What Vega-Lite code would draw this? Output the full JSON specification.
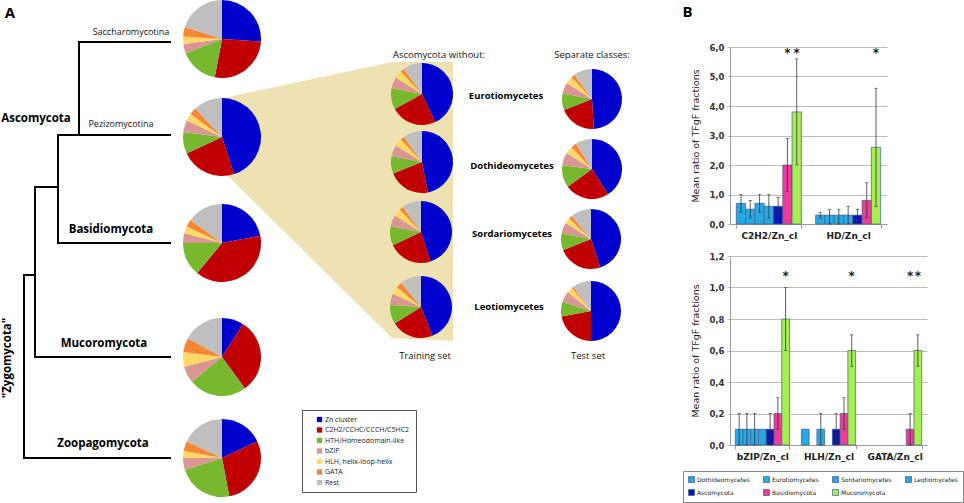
{
  "$schema": "https://vega.github.io/schema/vega-lite/v6.json",
  "padding": 0,
  "spacing": 0,
  "background": "white",
  "config": {
    "view": {"stroke": null},
    "axisY": {"grid": true, "gridColor": "#BDBDBD", "ticks": true, "tickSize": 3, "tickColor": "#BDBDBD", "domainColor": "#9A9A9A", "labelFont": "DejaVu Sans", "labelFontWeight": "bold", "labelFontSize": 8.5, "labelColor": "#333333", "labelPadding": 3, "labelOverlap": false, "titleFont": "DejaVu Sans", "titleFontWeight": "normal", "titleFontSize": 9.5, "titleColor": "#2A1A1A", "titlePadding": 8},
    "axisX": {"title": null, "labelAngle": 0, "labelFont": "DejaVu Sans", "labelFontWeight": "bold", "labelFontSize": 9, "labelColor": "#222222", "ticks": true, "tickBand": "extent", "tickSize": 4, "tickColor": "#9A9A9A", "domainColor": "#9A9A9A", "labelPadding": 3}
  },
  "resolve": {"scale": {"color": "independent", "x": "independent", "y": "independent"}, "legend": {"color": "independent"}},
  "datasets": {
    "tree": [
      {"x": 79, "y": 42, "x2": 170, "y2": 42},
      {"x": 79, "y": 42, "x2": 79, "y2": 135},
      {"x": 58, "y": 135, "x2": 170, "y2": 135},
      {"x": 58, "y": 135, "x2": 58, "y2": 243},
      {"x": 58, "y": 243, "x2": 170, "y2": 243},
      {"x": 35, "y": 187, "x2": 58, "y2": 187},
      {"x": 35, "y": 187, "x2": 35, "y2": 357},
      {"x": 35, "y": 357, "x2": 170, "y2": 357},
      {"x": 24, "y": 275, "x2": 35, "y2": 275},
      {"x": 24, "y": 275, "x2": 24, "y2": 458},
      {"x": 24, "y": 458, "x2": 170, "y2": 458}
    ],
    "wedge": [
      {"x": 228, "y": 97, "y2": 176},
      {"x": 392, "y": 62, "y2": 338},
      {"x": 453, "y": 62, "y2": 341}
    ],
    "pies": [
      {"pie": "Saccharomycotina", "set": "main", "x": 222, "y": 39, "zn": 26, "c2h2": 27, "hth": 16, "bzip": 4, "hlh": 3, "gata": 4, "rest": 20},
      {"pie": "Pezizomycotina", "set": "main", "x": 222, "y": 137, "zn": 45, "c2h2": 23, "hth": 9, "bzip": 5, "hlh": 3, "gata": 3, "rest": 12},
      {"pie": "Basidiomycota", "set": "main", "x": 222, "y": 243, "zn": 22, "c2h2": 39, "hth": 14, "bzip": 4, "hlh": 3, "gata": 3, "rest": 15},
      {"pie": "Mucoromycota", "set": "main", "x": 222, "y": 357, "zn": 9, "c2h2": 31, "hth": 24, "bzip": 7, "hlh": 6, "gata": 6, "rest": 17},
      {"pie": "Zoopagomycota", "set": "main", "x": 222, "y": 458, "zn": 18, "c2h2": 29, "hth": 23, "bzip": 5, "hlh": 3, "gata": 4, "rest": 18},
      {"pie": "Train Eurotiomycetes", "set": "train", "x": 422, "y": 94, "zn": 43, "c2h2": 24, "hth": 11, "bzip": 6, "hlh": 4, "gata": 2, "rest": 10},
      {"pie": "Train Dothideomycetes", "set": "train", "x": 422, "y": 162, "zn": 47, "c2h2": 22, "hth": 9, "bzip": 6, "hlh": 4, "gata": 2, "rest": 10},
      {"pie": "Train Sordariomycetes", "set": "train", "x": 421, "y": 232, "zn": 45, "c2h2": 23, "hth": 10, "bzip": 6, "hlh": 4, "gata": 2, "rest": 10},
      {"pie": "Train Leotiomycetes", "set": "train", "x": 421, "y": 307, "zn": 44, "c2h2": 22, "hth": 10, "bzip": 6, "hlh": 4, "gata": 3, "rest": 11},
      {"pie": "Test Eurotiomycetes", "set": "test", "x": 592, "y": 99, "zn": 49, "c2h2": 20, "hth": 9, "bzip": 6, "hlh": 4, "gata": 2, "rest": 10},
      {"pie": "Test Dothideomycetes", "set": "test", "x": 592, "y": 169, "zn": 41, "c2h2": 24, "hth": 12, "bzip": 7, "hlh": 4, "gata": 3, "rest": 9},
      {"pie": "Test Sordariomycetes", "set": "test", "x": 591, "y": 239, "zn": 45, "c2h2": 24, "hth": 9, "bzip": 6, "hlh": 3, "gata": 2, "rest": 11},
      {"pie": "Test Leotiomycetes", "set": "test", "x": 591, "y": 311, "zn": 50, "c2h2": 22, "hth": 8, "bzip": 6, "hlh": 3, "gata": 1, "rest": 10}
    ],
    "labels": [
      {"text": "A", "x": 10, "y": 13, "kind": "panel"},
      {"text": "Saccharomycotina", "x": 131, "y": 32, "kind": "sub"},
      {"text": "Pezizomycotina", "x": 121, "y": 124, "kind": "sub"},
      {"text": "Ascomycota", "x": 36, "y": 119, "kind": "phylum"},
      {"text": "Basidiomycota", "x": 111, "y": 230, "kind": "phylum"},
      {"text": "Mucoromycota", "x": 104, "y": 344, "kind": "phylum"},
      {"text": "Zoopagomycota", "x": 103, "y": 444, "kind": "phylum"},
      {"text": "\"Zygomycota\"", "x": 8, "y": 358, "kind": "vert"},
      {"text": "Ascomycota without:", "x": 439, "y": 55, "kind": "head"},
      {"text": "Separate classes:", "x": 592, "y": 55, "kind": "head"},
      {"text": "Eurotiomycetes", "x": 506, "y": 96, "kind": "cls"},
      {"text": "Dothideomycetes", "x": 512, "y": 166, "kind": "cls"},
      {"text": "Sordariomycetes", "x": 512, "y": 234, "kind": "cls"},
      {"text": "Leotiomycetes", "x": 509, "y": 307, "kind": "cls"},
      {"text": "Training set", "x": 425, "y": 356, "kind": "head"},
      {"text": "Test set", "x": 588, "y": 356, "kind": "head"}
    ],
    "bars": [
      {"ratio": "C2H2/Zn_cl", "grp": "Dothideomycetes", "mean": 0.7, "lo": 0.4, "hi": 1.0, "sig": ""},
      {"ratio": "C2H2/Zn_cl", "grp": "Eurotiomycetes", "mean": 0.5, "lo": 0.2, "hi": 0.8, "sig": ""},
      {"ratio": "C2H2/Zn_cl", "grp": "Sordariomycetes", "mean": 0.7, "lo": 0.4, "hi": 1.0, "sig": ""},
      {"ratio": "C2H2/Zn_cl", "grp": "Leotiomycetes", "mean": 0.6, "lo": 0.2, "hi": 1.0, "sig": ""},
      {"ratio": "C2H2/Zn_cl", "grp": "Ascomycota", "mean": 0.6, "lo": 0.3, "hi": 0.9, "sig": ""},
      {"ratio": "C2H2/Zn_cl", "grp": "Basidiomycota", "mean": 2.0, "lo": 1.1, "hi": 2.9, "sig": "*"},
      {"ratio": "C2H2/Zn_cl", "grp": "Mucoromycota", "mean": 3.8, "lo": 2.0, "hi": 5.6, "sig": "*"},
      {"ratio": "HD/Zn_cl", "grp": "Dothideomycetes", "mean": 0.3, "lo": 0.2, "hi": 0.4, "sig": ""},
      {"ratio": "HD/Zn_cl", "grp": "Eurotiomycetes", "mean": 0.3, "lo": 0.0, "hi": 0.5, "sig": ""},
      {"ratio": "HD/Zn_cl", "grp": "Sordariomycetes", "mean": 0.3, "lo": 0.0, "hi": 0.5, "sig": ""},
      {"ratio": "HD/Zn_cl", "grp": "Leotiomycetes", "mean": 0.3, "lo": 0.0, "hi": 0.6, "sig": ""},
      {"ratio": "HD/Zn_cl", "grp": "Ascomycota", "mean": 0.3, "lo": 0.1, "hi": 0.5, "sig": ""},
      {"ratio": "HD/Zn_cl", "grp": "Basidiomycota", "mean": 0.8, "lo": 0.2, "hi": 1.4, "sig": ""},
      {"ratio": "HD/Zn_cl", "grp": "Mucoromycota", "mean": 2.6, "lo": 0.6, "hi": 4.6, "sig": "*"},
      {"ratio": "bZIP/Zn_cl", "grp": "Dothideomycetes", "mean": 0.1, "lo": 0.0, "hi": 0.2, "sig": ""},
      {"ratio": "bZIP/Zn_cl", "grp": "Eurotiomycetes", "mean": 0.1, "lo": 0.0, "hi": 0.2, "sig": ""},
      {"ratio": "bZIP/Zn_cl", "grp": "Sordariomycetes", "mean": 0.1, "lo": 0.0, "hi": 0.2, "sig": ""},
      {"ratio": "bZIP/Zn_cl", "grp": "Leotiomycetes", "mean": 0.1, "lo": null, "hi": null, "sig": ""},
      {"ratio": "bZIP/Zn_cl", "grp": "Ascomycota", "mean": 0.1, "lo": 0.0, "hi": 0.2, "sig": ""},
      {"ratio": "bZIP/Zn_cl", "grp": "Basidiomycota", "mean": 0.2, "lo": 0.1, "hi": 0.3, "sig": ""},
      {"ratio": "bZIP/Zn_cl", "grp": "Mucoromycota", "mean": 0.8, "lo": 0.6, "hi": 1.0, "sig": "*"},
      {"ratio": "HLH/Zn_cl", "grp": "Dothideomycetes", "mean": 0.1, "lo": null, "hi": null, "sig": ""},
      {"ratio": "HLH/Zn_cl", "grp": "Sordariomycetes", "mean": 0.1, "lo": 0.0, "hi": 0.2, "sig": ""},
      {"ratio": "HLH/Zn_cl", "grp": "Ascomycota", "mean": 0.1, "lo": 0.0, "hi": 0.2, "sig": ""},
      {"ratio": "HLH/Zn_cl", "grp": "Basidiomycota", "mean": 0.2, "lo": 0.1, "hi": 0.3, "sig": ""},
      {"ratio": "HLH/Zn_cl", "grp": "Mucoromycota", "mean": 0.6, "lo": 0.5, "hi": 0.7, "sig": "*"},
      {"ratio": "GATA/Zn_cl", "grp": "Basidiomycota", "mean": 0.1, "lo": 0.0, "hi": 0.2, "sig": "*"},
      {"ratio": "GATA/Zn_cl", "grp": "Mucoromycota", "mean": 0.6, "lo": 0.5, "hi": 0.7, "sig": "*"}
    ]
  },
  "hconcat": [
    {
      "width": 682,
      "height": 456,
      "layer": [
        {
          "data": {"name": "wedge"},
          "mark": {"type": "area", "orient": "vertical", "color": "#EEE2B3"},
          "encoding": {
            "x": {"field": "x", "type": "quantitative", "scale": {"domain": [0, 682], "nice": false, "zero": false}, "axis": null},
            "y": {"field": "y", "type": "quantitative", "scale": {"domain": [47, 503], "nice": false, "zero": false, "reverse": true}, "axis": null},
            "y2": {"field": "y2"}
          }
        },
        {
          "data": {"name": "tree"},
          "mark": {"type": "rule", "color": "#000000", "strokeWidth": 2, "strokeCap": "square"},
          "encoding": {
            "x": {"field": "x", "type": "quantitative", "scale": {"domain": [0, 682], "nice": false, "zero": false}, "axis": null},
            "y": {"field": "y", "type": "quantitative", "scale": {"domain": [47, 503], "nice": false, "zero": false, "reverse": true}, "axis": null},
            "x2": {"field": "x2"},
            "y2": {"field": "y2"}
          }
        },
        {
          "data": {"name": "pies"},
          "transform": [
            {"fold": ["zn", "c2h2", "hth", "bzip", "hlh", "gata", "rest"], "as": ["tf", "v"]},
            {"window": [{"op": "row_number", "as": "k"}], "groupby": ["pie"]},
            {"stack": "v", "groupby": ["pie"], "sort": [{"field": "k", "order": "ascending"}], "offset": "normalize", "as": ["t0", "t1"]}
          ],
          "layer": [
            {"transform": [{"filter": "datum.set == 'main'"}], "mark": {"type": "arc", "outerRadius": 39}},
            {"transform": [{"filter": "datum.set == 'train'"}], "mark": {"type": "arc", "outerRadius": 31}},
            {"transform": [{"filter": "datum.set == 'test'"}], "mark": {"type": "arc", "outerRadius": 30}}
          ],
          "encoding": {
            "x": {"field": "x", "type": "quantitative", "scale": {"domain": [0, 682], "nice": false, "zero": false}, "axis": null},
            "y": {"field": "y", "type": "quantitative", "scale": {"domain": [47, 503], "nice": false, "zero": false, "reverse": true}, "axis": null},
            "theta": {"field": "t0", "type": "quantitative", "scale": {"domain": [0, 1]}},
            "theta2": {"field": "t1"},
            "color": {
              "field": "tf", "type": "nominal",
              "scale": {"domain": ["zn", "c2h2", "hth", "bzip", "hlh", "gata", "rest"], "range": ["#0000CC", "#C00000", "#77B82E", "#D99694", "#FFD866", "#F58634", "#BFBFBF"]},
              "legend": {
                "orient": "none", "legendX": 302, "legendY": 363, "title": null,
                "symbolType": "square", "symbolSize": 28, "symbolOffset": 8,
                "labelFont": "Open Sans", "labelFontSize": 7, "labelColor": "#222222", "labelOffset": 2,
                "strokeColor": "#555555", "padding": 6, "rowPadding": 2.5,
                "labelExpr": "{'zn': 'Zn cluster', 'c2h2': 'C2H2/CCHC/CCCH/C5HC2', 'hth': 'HTH/Homeodomain-like', 'bzip': 'bZIP', 'hlh': 'HLH, helix-loop-helix', 'gata': 'GATA', 'rest': 'Rest'}[datum.label]"
              }
            }
          }
        },
        {
          "data": {"name": "labels"},
          "encoding": {
            "x": {"field": "x", "type": "quantitative", "scale": {"domain": [0, 682], "nice": false, "zero": false}, "axis": null},
            "y": {"field": "y", "type": "quantitative", "scale": {"domain": [47, 503], "nice": false, "zero": false, "reverse": true}, "axis": null},
            "text": {"field": "text"}
          },
          "layer": [
            {"transform": [{"filter": "datum.kind == 'panel'"}], "mark": {"type": "text", "font": "Open Sans", "fontWeight": "bold", "fontSize": 15, "color": "#000"}},
            {"transform": [{"filter": "datum.kind == 'sub'"}], "mark": {"type": "text", "font": "Open Sans", "fontSize": 9, "color": "#111"}},
            {"transform": [{"filter": "datum.kind == 'phylum'"}], "mark": {"type": "text", "font": "Open Sans", "fontWeight": "bold", "fontSize": 11.5, "color": "#000"}},
            {"transform": [{"filter": "datum.kind == 'vert'"}], "mark": {"type": "text", "font": "Open Sans", "fontWeight": "bold", "fontSize": 11.5, "angle": 270, "color": "#000"}},
            {"transform": [{"filter": "datum.kind == 'head'"}], "mark": {"type": "text", "font": "Open Sans", "fontSize": 9.5, "color": "#111"}},
            {"transform": [{"filter": "datum.kind == 'cls'"}], "mark": {"type": "text", "font": "Open Sans", "fontWeight": "bold", "fontSize": 9.5, "color": "#000"}}
          ]
        }
      ]
    },
    {
      "title": {"text": "B", "anchor": "start", "fontSize": 15, "fontWeight": "bold", "font": "Open Sans", "offset": 28, "frame": "bounds", "color": "#000", "dy": 5},
      "data": {"name": "bars"},
      "spacing": 12,
      "resolve": {"scale": {"x": "independent", "y": "independent", "xOffset": "independent"}},
      "vconcat": [
        {
          "width": 157,
          "height": 177,
          "transform": [{"filter": "datum.ratio == 'C2H2/Zn_cl' || datum.ratio == 'HD/Zn_cl'"}],
          "encoding": {
            "x": {"field": "ratio", "type": "nominal", "sort": ["C2H2/Zn_cl", "HD/Zn_cl"], "scale": {"paddingInner": 0.18, "paddingOuter": 0.08}},
            "xOffset": {"field": "grp", "type": "nominal", "sort": ["Dothideomycetes", "Eurotiomycetes", "Sordariomycetes", "Leotiomycetes", "Ascomycota", "Basidiomycota", "Mucoromycota"], "scale": {"domain": ["Dothideomycetes", "Eurotiomycetes", "Sordariomycetes", "Leotiomycetes", "Ascomycota", "Basidiomycota", "Mucoromycota"]}}
          },
          "layer": [
            {
              "mark": {"type": "bar", "stroke": "#3C5F8A", "strokeWidth": 0.7},
              "encoding": {
                "y": {"field": "mean", "type": "quantitative", "scale": {"domain": [0, 6], "nice": false},
                  "axis": {"title": "Mean ratio of TFgF fractions", "values": [0, 1, 2, 3, 4, 5, 6], "labelExpr": "replace(format(datum.value, '.1f'), '.', ',')"}},
                "color": {"field": "grp", "type": "nominal",
                  "scale": {"domain": ["Dothideomycetes", "Eurotiomycetes", "Sordariomycetes", "Leotiomycetes", "Ascomycota", "Basidiomycota", "Mucoromycota"], "range": ["#29A8E6", "#29A8E6", "#29A8E6", "#29A8E6", "#0A14B4", "#EE3C9A", "#A6EE52"]},
                  "legend": {"orient": "none", "legendX": -47, "legendY": 424, "direction": "horizontal", "columns": 4, "title": null, "symbolType": "square", "symbolSize": 36, "symbolStrokeColor": "#335577", "symbolStrokeWidth": 0.7, "labelFont": "DejaVu Sans", "labelFontSize": 6, "labelColor": "#222", "strokeColor": "#888888", "padding": 5, "columnPadding": 12, "rowPadding": 4, "labelOffset": 2}}
              }
            },
            {
              "mark": {"type": "rule", "color": "#333333", "strokeWidth": 0.8},
              "encoding": {"y": {"field": "lo", "type": "quantitative", "scale": {"domain": [0, 6], "nice": false},
                  "axis": {"title": "Mean ratio of TFgF fractions", "values": [0, 1, 2, 3, 4, 5, 6], "labelExpr": "replace(format(datum.value, '.1f'), '.', ',')"}}, "y2": {"field": "hi"}}
            },
            {
              "mark": {"type": "tick", "orient": "horizontal", "color": "#333333", "size": 3.5, "thickness": 0.8},
              "encoding": {"y": {"field": "lo", "type": "quantitative", "scale": {"domain": [0, 6], "nice": false},
                  "axis": {"title": "Mean ratio of TFgF fractions", "values": [0, 1, 2, 3, 4, 5, 6], "labelExpr": "replace(format(datum.value, '.1f'), '.', ',')"}}}
            },
            {
              "mark": {"type": "tick", "orient": "horizontal", "color": "#333333", "size": 3.5, "thickness": 0.8},
              "encoding": {"y": {"field": "hi", "type": "quantitative", "scale": {"domain": [0, 6], "nice": false},
                  "axis": {"title": "Mean ratio of TFgF fractions", "values": [0, 1, 2, 3, 4, 5, 6], "labelExpr": "replace(format(datum.value, '.1f'), '.', ',')"}}}
            },
            {
              "mark": {"type": "text", "font": "DejaVu Sans", "fontSize": 12, "fontWeight": "bold", "baseline": "middle", "color": "#222"},
              "encoding": {"y": {"datum": 5.78, "type": "quantitative", "scale": {"domain": [0, 6], "nice": false},
                  "axis": {"title": "Mean ratio of TFgF fractions", "values": [0, 1, 2, 3, 4, 5, 6], "labelExpr": "replace(format(datum.value, '.1f'), '.', ',')"}}, "text": {"field": "sig"}}
            }
          ]
        },
        {
          "width": 197,
          "height": 189,
          "transform": [{"filter": "datum.ratio == 'bZIP/Zn_cl' || datum.ratio == 'HLH/Zn_cl' || datum.ratio == 'GATA/Zn_cl'"}],
          "encoding": {
            "x": {"field": "ratio", "type": "nominal", "sort": ["bZIP/Zn_cl", "HLH/Zn_cl", "GATA/Zn_cl"], "scale": {"paddingInner": 0.18, "paddingOuter": 0.08}},
            "xOffset": {"field": "grp", "type": "nominal", "sort": ["Dothideomycetes", "Eurotiomycetes", "Sordariomycetes", "Leotiomycetes", "Ascomycota", "Basidiomycota", "Mucoromycota"], "scale": {"domain": ["Dothideomycetes", "Eurotiomycetes", "Sordariomycetes", "Leotiomycetes", "Ascomycota", "Basidiomycota", "Mucoromycota"]}}
          },
          "layer": [
            {
              "mark": {"type": "bar", "stroke": "#3C5F8A", "strokeWidth": 0.7},
              "encoding": {
                "y": {"field": "mean", "type": "quantitative", "scale": {"domain": [0, 1.2], "nice": false},
                  "axis": {"title": "Mean ratio of TFgF fractions", "values": [0, 0.2, 0.4, 0.6, 0.8, 1.0, 1.2], "labelExpr": "replace(format(datum.value, '.1f'), '.', ',')"}},
                "color": {"field": "grp", "type": "nominal",
                  "scale": {"domain": ["Dothideomycetes", "Eurotiomycetes", "Sordariomycetes", "Leotiomycetes", "Ascomycota", "Basidiomycota", "Mucoromycota"], "range": ["#29A8E6", "#29A8E6", "#29A8E6", "#29A8E6", "#0A14B4", "#EE3C9A", "#A6EE52"]}}
              }
            },
            {
              "mark": {"type": "rule", "color": "#333333", "strokeWidth": 0.8},
              "encoding": {"y": {"field": "lo", "type": "quantitative", "scale": {"domain": [0, 1.2], "nice": false},
                  "axis": {"title": "Mean ratio of TFgF fractions", "values": [0, 0.2, 0.4, 0.6, 0.8, 1.0, 1.2], "labelExpr": "replace(format(datum.value, '.1f'), '.', ',')"}}, "y2": {"field": "hi"}}
            },
            {
              "mark": {"type": "tick", "orient": "horizontal", "color": "#333333", "size": 3.5, "thickness": 0.8},
              "encoding": {"y": {"field": "lo", "type": "quantitative", "scale": {"domain": [0, 1.2], "nice": false},
                  "axis": {"title": "Mean ratio of TFgF fractions", "values": [0, 0.2, 0.4, 0.6, 0.8, 1.0, 1.2], "labelExpr": "replace(format(datum.value, '.1f'), '.', ',')"}}}
            },
            {
              "mark": {"type": "tick", "orient": "horizontal", "color": "#333333", "size": 3.5, "thickness": 0.8},
              "encoding": {"y": {"field": "hi", "type": "quantitative", "scale": {"domain": [0, 1.2], "nice": false},
                  "axis": {"title": "Mean ratio of TFgF fractions", "values": [0, 0.2, 0.4, 0.6, 0.8, 1.0, 1.2], "labelExpr": "replace(format(datum.value, '.1f'), '.', ',')"}}}
            },
            {
              "mark": {"type": "text", "font": "DejaVu Sans", "fontSize": 12, "fontWeight": "bold", "baseline": "middle", "color": "#222"},
              "encoding": {"y": {"datum": 1.07, "type": "quantitative", "scale": {"domain": [0, 1.2], "nice": false},
                  "axis": {"title": "Mean ratio of TFgF fractions", "values": [0, 0.2, 0.4, 0.6, 0.8, 1.0, 1.2], "labelExpr": "replace(format(datum.value, '.1f'), '.', ',')"}}, "text": {"field": "sig"}}
            }
          ]
        }
      ]
    }
  ]
}
